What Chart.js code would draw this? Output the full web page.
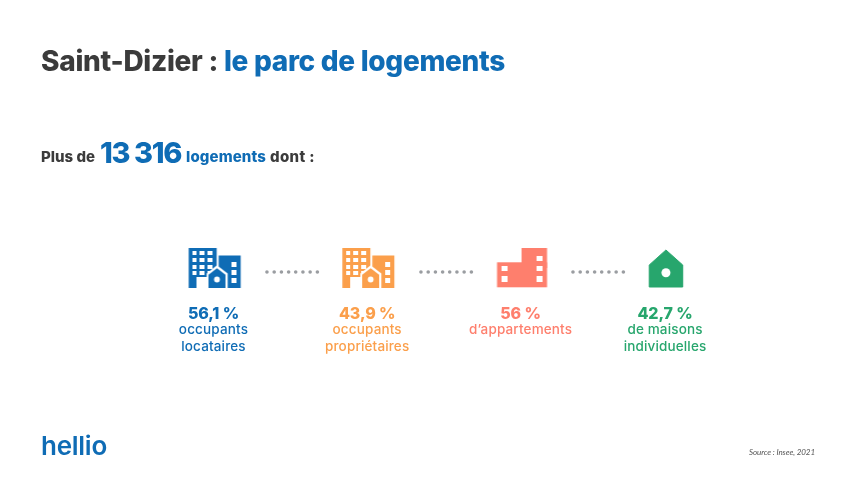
<!DOCTYPE html>
<html lang="fr">
<head>
<meta charset="utf-8">
<title>Saint-Dizier : le parc de logements</title>
<script src="https://cdn.jsdelivr.net/npm/chart.js@4"></script>
<style>
html,body{margin:0;padding:0;background:#fff;width:855px;height:481px;overflow:hidden}
#wrap{position:relative;width:855px;height:481px}
canvas{position:absolute;left:0;top:0}
.t{position:absolute;white-space:pre;font-family:Inter,sans-serif;line-height:1;transform-origin:left top}
</style>
</head>
<body>
<div id="wrap">
<canvas id="c" width="855" height="481"></canvas>
<span class="t fit" data-w="177" style="left:41px;top:47px;font-size:28px;font-weight:800;color:#3b3b3b">Saint-Dizier :</span>
<span class="t fit" data-w="281" style="left:224px;top:47px;font-size:28px;font-weight:800;color:#0f6cb5">le parc de logements</span>
<span class="t fit" data-w="54" style="left:41px;top:149px;font-size:15px;font-weight:800;color:#3b3b3b">Plus de</span>
<span class="t fit" data-w="81" style="left:100px;top:138px;font-size:29px;font-weight:800;color:#0f6cb5">13 316</span>
<span class="t fit" data-w="80" style="left:186px;top:149px;font-size:15px;font-weight:800;color:#0f6cb5">logements</span>
<span class="t fit" data-w="45" style="left:270px;top:149px;font-size:15px;font-weight:800;color:#3b3b3b">dont :</span>
<span class="t fit" data-w="66" style="left:41px;top:433px;font-size:26px;font-weight:600;color:#0f6cb5">hellio</span>
<span class="t fit" data-w="66" style="left:749px;top:448px;font-size:8px;font-style:italic;font-family:Lato,sans-serif;color:#555">Source : Insee, 2021</span>
</div>
<script>
// ---- data ----
const categories = ['occupants locataires', 'occupants propriétaires', "d’appartements", 'de maisons individuelles'];
const percents   = [56.1, 43.9, 56, 42.7];
const firstLines  = ['occupants', 'occupants', "d’appartements", 'de maisons'];
const secondLines = ['locataires', 'propriétaires', '', 'individuelles'];
const colors = ['#0f6cb5', '#fb9f4b', '#fe7f6d', '#27a66d'];
const glyphs = ['towers', 'towers', 'flats', 'house'];
// column of each figure, in column units
const slots = [0, 1, 1.998, 2.938];
// the grey dotted connectors between figures, in column units
const connectorDots = [
  0.348, 0.395, 0.442, 0.489, 0.535, 0.582, 0.629, 0.676,
  1.350, 1.397, 1.444, 1.491, 1.537, 1.584, 1.631, 1.678,
  2.339, 2.386, 2.433, 2.480, 2.526, 2.573, 2.620, 2.667
];

function makeGlyph(kind, color) {
  const cv = document.createElement('canvas');
  const W = 64, H = 48; cv.width = W; cv.height = H;
  const g = cv.getContext('2d');
  g.fillStyle = color;
  const R = (x, y, w, h) => g.fillRect(x, y, w, h);
  const clear = (x, y, w, h) => { g.clearRect(x, y, w, h); };
  if (kind === 'towers') {
    g.translate(6.7, 3.5);          // glyph box 53 x 41
    R(0.5, 0.5, 28, 40);
    R(30.5, 8, 22, 32.5);
    for (const x of [3.8, 11.5, 19.3]) for (const y of [3.5, 10.2, 17, 23.6]) clear(x, y, 4.6, 4.3);
    for (const y of [14, 22.4, 30.4]) clear(42.8, y, 5.4, 5);
    clear(8.5, 29.5, 12, 12);
    // house in front, white halo
    g.save();
    g.globalCompositeOperation = 'destination-out';
    g.beginPath(); g.moveTo(28.8, 17.8); g.lineTo(39.5, 26); g.lineTo(39.5, 42); g.lineTo(18.5, 42); g.lineTo(18.5, 26); g.closePath(); g.fill();
    g.restore();
    g.beginPath(); g.moveTo(28.8, 20.8); g.lineTo(37.3, 27.2); g.lineTo(37.3, 40.5); g.lineTo(20.3, 40.5); g.lineTo(20.3, 27.2); g.closePath(); g.fill();
    g.save();
    g.globalCompositeOperation = 'destination-out';
    g.beginPath(); g.arc(28.8, 32, 2.9, 0, 7); g.fill();
    g.restore();
  } else if (kind === 'flats') {
    g.translate(8.5, 4);            // glyph box 50 x 39
    R(0, 14.3, 50, 25);
    R(24.5, 0, 25.5, 20);
    for (const y of [7.5, 17.7, 28.3]) clear(39.5, y, 6, 5.6);
    for (const y of [17.7, 28.3]) clear(4.5, y, 5.6, 5.6);
  } else {
    g.translate(15.7, 5.5);         // glyph box 34.5 x 38
    g.lineJoin = 'round'; g.strokeStyle = color; g.lineWidth = 1;
    g.beginPath(); g.moveTo(17.2, 0.5); g.lineTo(34, 15.5); g.lineTo(34, 37.5); g.lineTo(0.5, 37.5); g.lineTo(0.5, 15.5); g.closePath();
    g.fill(); g.stroke();
    g.save();
    g.globalCompositeOperation = 'destination-out';
    g.beginPath(); g.arc(17.2, 23.3, 4.5, 0, 7); g.fill();
    g.restore();
  }
  return cv;
}

// text under each figure, placed through the chart's own scales
const captionPlugin = {
  id: 'captions',
  afterDatasetsDraw(chart) {
    const { ctx, scales: { x, y } } = chart;
    ctx.save();
    ctx.textAlign = 'center';
    ctx.textBaseline = 'alphabetic';
    percents.forEach((p, i) => {
      const px = x.getPixelForValue(slots[i]);
      ctx.fillStyle = colors[i];
      ctx.font = '800 16px Inter, sans-serif';
      ctx.letterSpacing = '-0.1px';
      ctx.fillText(String(p).replace('.', ',') + ' %', px, y.getPixelForValue(318.5));
      ctx.font = '500 13.5px Inter, sans-serif';
      ctx.letterSpacing = '0.15px';
      ctx.fillText(firstLines[i], px, y.getPixelForValue(334));
      if (secondLines[i]) ctx.fillText(secondLines[i], px, y.getPixelForValue(350.5));
    });
    ctx.restore();
  }
};

new Chart(document.getElementById('c'), {
  type: 'scatter',
  data: {
    labels: categories,
    datasets: [
      {
        label: 'Connecteurs',
        data: connectorDots.map(v => ({ x: v, y: 272 })),
        pointStyle: 'circle',
        pointRadius: 1.8,
        pointBackgroundColor: '#9a9da1',
        pointBorderWidth: 0
      },
      {
        label: 'Logements (%)',
        data: percents.map((p, i) => ({ x: slots[i], y: 268, v: p })),
        pointStyle: glyphs.map((g, i) => makeGlyph(g, colors[i])),
        pointBorderWidth: 0
      }
    ]
  },
  options: {
    responsive: false,
    animation: false,
    devicePixelRatio: 1,
    layout: { padding: 0, autoPadding: false },
    plugins: { legend: { display: false }, tooltip: { enabled: false }, title: { display: false } },
    scales: {
      x: { type: 'linear', display: false, min: -1.389, max: 4.174 },
      y: { type: 'linear', display: false, min: 0, max: 481, reverse: true }
    }
  },
  plugins: [captionPlugin]
});

// match each header text to the width it has in the picture
document.fonts.ready.then(() => {
  document.querySelectorAll('.fit').forEach(el => {
    const target = +el.dataset.w;
    const w = el.getBoundingClientRect().width;
    el.style.letterSpacing = ((target - w) / el.textContent.length).toFixed(3) + 'px';
  });
});
</script>
</body>
</html>
